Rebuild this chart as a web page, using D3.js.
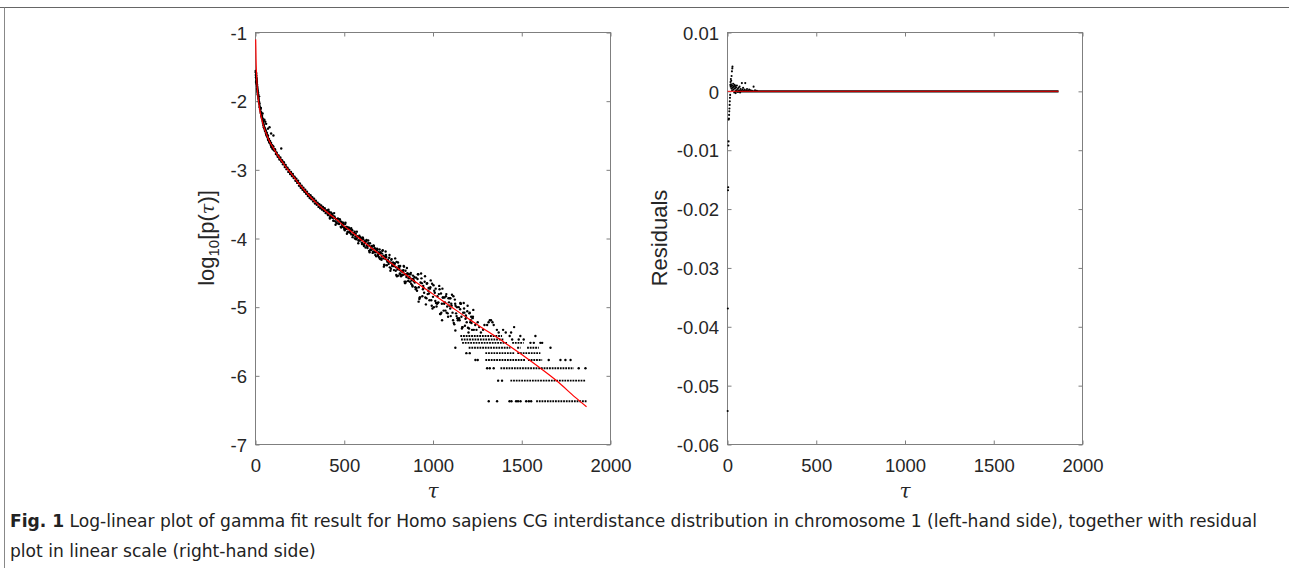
<!DOCTYPE html>
<html>
<head>
<meta charset="utf-8">
<script src="https://cdn.jsdelivr.net/npm/d3@7"></script>
<style>
  body { margin: 0; background: #fff; }
  .tick text { font-family: "Liberation Sans", Arial, sans-serif; font-size: 18.5px; fill: #262626; }
  .tick line { stroke: #7f7f7f; }
</style>
</head>
<body>
<svg id="fig" width="1289" height="574"></svg>
<script>
// ---- values ----
const xTicks = [0, 500, 1000, 1500, 2000];
const leftYTicks = [-1, -2, -3, -4, -5, -6, -7];
const rightYTicks = [0.01, 0, -0.01, -0.02, -0.03, -0.04, -0.05, -0.06];
const rightYLabels = ["0.01", "0", "-0.01", "-0.02", "-0.03", "-0.04", "-0.05", "-0.06"];

// gamma fit (red), log10 p(tau)
const fitCurve = [[1,-1.10],[2,-1.22],[3,-1.38],[4,-1.48],[6,-1.62],[8,-1.73],[12,-1.88],[18,-2.02],
  [25,-2.14],[35,-2.26],[45,-2.36],[60,-2.47],[80,-2.59],[100,-2.68],[125,-2.79],[150,-2.88],[177,-2.98],
  [200,-3.05],[250,-3.22],[300,-3.37],[350,-3.50],[400,-3.61],[450,-3.71],[500,-3.82],[550,-3.92],
  [600,-4.03],[700,-4.23],[800,-4.43],[900,-4.63],[1000,-4.81],[1100,-4.99],[1200,-5.17],[1300,-5.34],
  [1400,-5.51],[1500,-5.69],[1600,-5.88],[1700,-6.08],[1800,-6.31],[1865,-6.45]];

// observed log10 p(tau), short distances
const headPoints = [[1,-1.56],[2,-1.62],[3,-1.65],[4,-1.60],[5,-1.70],[6,-1.67],[7,-1.74],[8,-1.78],[9,-1.76],
  [10,-1.83],[11,-1.81],[12,-1.88],[14,-1.92],[15,-1.90],[17,-1.96],[19,-2.00],[20,-1.93],[21,-2.03],[23,-2.07],
  [25,-2.10],[27,-2.12],[29,-2.15],[30,-2.10],[31,-2.18],[33,-2.20],[35,-2.24],[37,-2.23],[39,-2.27],[40,-2.18],
  [41,-2.30],[43,-2.32],[45,-2.35],[47,-2.38],[50,-2.40],[53,-2.43],[56,-2.42],[59,-2.47],[60,-2.33],[62,-2.50],
  [65,-2.49],[68,-2.53],[71,-2.56],[74,-2.55],[77,-2.59],[79,-2.38],[80,-2.61],[83,-2.60],[86,-2.64],[89,-2.66],
  [92,-2.65],[95,-2.68],[98,-2.70],[101,-2.50],[145,-2.69]];
const headExtra = [[2,-1.58],[3,-1.72],[4,-1.66],[5,-1.63],[6,-1.75],[7,-1.69],[8,-1.72],[9,-1.82],[10,-1.79],
  [11,-1.86],[12,-1.84],[13,-1.90],[14,-1.87],[16,-1.94],[18,-1.98],[20,-2.02],[22,-2.04],[24,-2.09],[26,-2.12],
  [28,-2.10],[30,-2.17],[32,-2.16],[34,-2.22],[36,-2.21],[38,-2.26],[40,-2.25],[42,-2.30],[44,-2.29],[46,-2.34],
  [48,-2.37],[50,-2.27],[52,-2.39],[55,-2.30],[55,-2.44],[58,-2.43],[61,-2.48],[64,-2.46],[67,-2.51],[70,-2.40],
  [70,-2.50],[73,-2.57],[76,-2.55],[79,-2.60],[82,-2.58],[85,-2.62],[88,-2.47],[88,-2.61],[91,-2.67],[94,-2.64],
  [97,-2.69],[99,-2.66]];

// the tight band 100-700
const bandPoints = [[100,-2.66],[105,-2.72],[110,-2.70],[115,-2.77],[120,-2.75],[125,-2.81],[130,-2.79],[135,-2.85],
  [140,-2.82],[145,-2.88],[150,-2.86],[155,-2.92],[160,-2.89],[165,-2.96],[170,-2.93],[175,-2.99],[180,-2.97],
  [185,-3.03],[190,-3.00],[195,-3.06],[200,-3.03],[205,-3.09],[210,-3.06],[215,-3.12],[220,-3.10],[225,-3.16],
  [230,-3.13],[235,-3.19],[240,-3.16],[245,-3.23],[250,-3.20],[255,-3.26],[260,-3.23],[265,-3.29],[270,-3.26],
  [275,-3.32],[280,-3.29],[285,-3.35],[290,-3.32],[295,-3.38],[300,-3.35],[305,-3.41],[310,-3.37],[315,-3.43],
  [320,-3.40],[325,-3.46],[330,-3.42],[335,-3.49],[340,-3.45],[345,-3.51],[350,-3.48],[355,-3.54],[360,-3.50],
  [365,-3.56],[370,-3.52],[375,-3.58],[380,-3.54],[385,-3.60],[390,-3.56],[395,-3.63],[400,-3.59],
  [405,-3.59],[410,-3.66],[415,-3.63],[420,-3.69],[425,-3.62],[430,-3.69],[435,-3.66],[440,-3.74],[445,-3.68],
  [450,-3.75],[455,-3.72],[460,-3.78],[465,-3.71],[470,-3.78],[475,-3.75],[480,-3.83],[485,-3.76],[490,-3.83],
  [495,-3.80],[500,-3.86],[505,-3.79],[510,-3.86],[515,-3.83],[520,-3.91],[525,-3.84],[530,-3.91],[535,-3.88],
  [540,-3.94],[545,-3.88],[550,-3.95],[555,-3.92],[560,-4.00],[565,-3.93],[570,-4.00],[575,-3.97],[580,-4.03],
  [585,-3.96],[590,-4.03],[595,-4.00],[600,-4.08],[605,-3.99],[610,-4.09],[615,-4.04],[620,-4.13],[625,-4.02],
  [630,-4.12],[635,-4.07],[640,-4.18],[645,-4.07],[650,-4.17],[655,-4.12],[660,-4.21],[665,-4.10],[670,-4.20],
  [675,-4.15],[680,-4.26],[685,-4.15],[690,-4.25],[695,-4.20],[700,-4.29]];
const bandMiddle = [[102,-2.69],[112,-2.73],[122,-2.78],[132,-2.82],[142,-2.85],[152,-2.89],[162,-2.92],[172,-2.96],
  [182,-2.99],[192,-3.03],[202,-3.06],[212,-3.09],[222,-3.12],[232,-3.16],[242,-3.19],[252,-3.23],[262,-3.26],
  [272,-3.29],[282,-3.32],[292,-3.35],[302,-3.38],[312,-3.40],[322,-3.43],[332,-3.45],[342,-3.48],[352,-3.50],
  [362,-3.53],[372,-3.55],[382,-3.57],[392,-3.59],
  [403,-3.62],[411,-3.58],[419,-3.71],[427,-3.65],[435,-3.70],[443,-3.63],[451,-3.80],[459,-3.72],[467,-3.75],
  [475,-3.72],[483,-3.84],[491,-3.78],[499,-3.84],[507,-3.77],[515,-3.93],[523,-3.86],[531,-3.89],[539,-3.85],
  [547,-3.98],[555,-3.92],[563,-3.97],[571,-3.90],[579,-4.07],[587,-3.99],[595,-4.02],[603,-3.99],[611,-4.11],
  [619,-4.05],[627,-4.10],[635,-4.03],[643,-4.20],[651,-4.12],[659,-4.15],[667,-4.11],[675,-4.24],[683,-4.18],
  [691,-4.23],[699,-4.16],
  [407,-3.65],[415,-3.61],[423,-3.67],[431,-3.64],[439,-3.74],[447,-3.70],[455,-3.77],[463,-3.71],[471,-3.79],
  [479,-3.75],[487,-3.80],[495,-3.77],[503,-3.88],[511,-3.83],[519,-3.90],[527,-3.85],[535,-3.92],[543,-3.88],
  [551,-3.94],[559,-3.90],[567,-4.01],[575,-3.97],[583,-4.03],[591,-3.98],[599,-4.06],[607,-4.01],[615,-4.07],
  [623,-4.04],[631,-4.14],[639,-4.10],[647,-4.16],[655,-4.11],[663,-4.19],[671,-4.14],[679,-4.20],[687,-4.16],
  [695,-4.27]];

// wider scatter 700-1230
const spreadPoints = [[702,-4.22],[705,-4.20],[710,-4.31],[712,-4.26],[715,-4.18],[720,-4.29],[722,-4.25],[725,-4.38],
  [730,-4.27],[732,-4.30],[735,-4.24],[740,-4.39],[742,-4.32],[745,-4.31],[750,-4.37],[752,-4.34],[755,-4.24],
  [760,-4.47],[762,-4.35],[765,-4.31],[770,-4.40],[772,-4.38],[775,-4.35],[780,-4.46],[782,-4.40],[785,-4.36],
  [790,-4.47],[792,-4.42],[795,-4.34],[800,-4.45],[802,-4.43],[805,-4.54],[810,-4.43],[812,-4.46],[815,-4.40],
  [820,-4.55],[822,-4.48],[825,-4.47],[830,-4.53],[832,-4.49],[835,-4.40],[840,-4.63],[842,-4.52],[845,-4.47],
  [850,-4.56],[852,-4.53],[855,-4.51],[860,-4.62],[862,-4.56],[865,-4.52],[870,-4.63],[872,-4.58],[875,-4.50],
  [880,-4.61],[882,-4.59],[885,-4.70],[890,-4.59],[892,-4.62],[895,-4.56],[900,-4.71],
  [905,-4.57],[910,-4.76],[915,-4.52],[919,-4.92],[920,-4.71],[925,-4.86],[930,-4.64],[935,-4.58],[940,-4.84],
  [945,-4.69],[950,-4.79],[955,-4.55],[960,-4.96],[965,-4.66],[970,-4.81],[975,-4.72],[980,-4.90],[985,-4.71],
  [990,-4.90],[995,-4.66],[1000,-4.85],[1005,-5.00],[1010,-4.79],[1015,-4.73],[1020,-4.99],[1025,-4.84],
  [1030,-4.93],[1035,-4.69],[1040,-5.10],[1045,-4.80],[1050,-4.95],[1051,-5.19],[1055,-4.86],[1060,-5.05],
  [1065,-4.86],[1070,-5.05],[1075,-4.81],[1080,-4.99],[1085,-5.14],[1090,-4.93],[1095,-4.87],[1098,-4.87],
  [1100,-5.13],[1105,-4.98],[1110,-5.08],[1115,-4.84],[1120,-5.25],[1125,-4.95],[1126,-5.34],[1130,-5.09],
  [1135,-5.00],[1140,-5.19],[1145,-5.00],[1150,-5.19],[1154,-4.94],[1155,-4.95],[1160,-5.14],[1165,-5.29],
  [1170,-5.08],[1175,-5.02],[1180,-5.27],[1185,-5.12],[1190,-5.22],[1195,-4.98],[1200,-5.37],[1205,-5.09],
  [1210,-5.22],[1215,-5.14],[1220,-5.33],[1225,-5.14],[1230,-5.33]];
const spreadExtra = [[707,-4.29],[717,-4.17],[727,-4.39],[737,-4.27],[747,-4.32],[757,-4.42],[767,-4.30],[777,-4.40],
  [787,-4.29],[797,-4.55],[807,-4.40],[817,-4.52],[827,-4.53],[837,-4.41],[847,-4.63],[857,-4.51],[867,-4.56],
  [877,-4.66],[887,-4.54],[897,-4.64],[907,-4.72],[917,-4.52],[927,-4.86],[937,-4.65],[947,-4.72],[957,-4.86],
  [967,-4.65],[977,-4.80],[987,-4.61],[997,-5.02],[1007,-4.76],[1017,-4.94],[1027,-4.94],[1037,-4.74],[1047,-5.08],
  [1057,-4.86],[1067,-4.93],[1077,-5.08],[1087,-4.87],[1097,-5.02],[1107,-4.82],[1117,-5.23],[1127,-4.98],
  [1137,-5.16],[1147,-5.16],[1157,-4.95],[1167,-5.29],[1177,-5.08],[1187,-5.15],[1197,-5.30],[1207,-5.08],
  [1217,-5.23],[1227,-5.04],
  [703,-4.30],[713,-4.22],[723,-4.41],[733,-4.19],[743,-4.34],[753,-4.28],[763,-4.44],[773,-4.38],[783,-4.37],
  [793,-4.53],[803,-4.35],[813,-4.51],[823,-4.54],[833,-4.46],[843,-4.65],[853,-4.43],[863,-4.58],[873,-4.52],
  [883,-4.68],[893,-4.62],[903,-4.74],[913,-4.59],[923,-4.88],[933,-4.51],[943,-4.74],[953,-4.63],[963,-4.87],
  [973,-4.76],[983,-4.73],[993,-4.98],[1003,-4.68],[1013,-4.91],[1023,-4.95],[1033,-4.81],[1043,-5.10],
  [1053,-4.73],[1063,-4.95],[1073,-4.84],[1083,-5.09],[1093,-4.98],[1103,-4.95],[1113,-5.19],[1123,-4.89],
  [1133,-5.13],[1143,-5.17],[1153,-5.03],[1163,-5.31],[1173,-4.94],[1183,-5.17],[1193,-5.06],[1203,-5.31],
  [1213,-5.19],[1223,-5.16]];

// far tail: counts are small, so values sit on discrete levels
const tailDots = [[1314,-6.37],[1361,-6.37],[1431,-6.37],[1442,-6.37],[1468,-6.37],[1479,-6.37],[1493,-6.37],
  [1525,-6.37],[1540,-6.37],[1553,-6.37],
  [1367,-6.07],[1389,-6.07],
  [1305,-5.89],[1320,-5.89],[1342,-5.89],[1821,-5.89],[1859,-5.89],
  [1239,-5.77],[1252,-5.77],[1652,-5.77],[1718,-5.77],[1746,-5.77],[1775,-5.77],
  [1188,-5.67],[1207,-5.67],
  [1126,-5.59],[1662,-5.59],
  [1549,-5.52],[1568,-5.52],[1605,-5.52],[1615,-5.52],
  [1446,-5.47],[1483,-5.47],[1511,-5.47],
  [1432,-5.42],[1492,-5.42],[1577,-5.42],
  [1238,-5.26],[1245,-5.33],[1252,-5.22],[1260,-5.29],[1270,-5.37],[1282,-5.33],[1290,-5.26],[1305,-5.26],
  [1313,-5.22],[1320,-5.19],[1327,-5.19],[1335,-5.22],[1342,-5.26],[1360,-5.33],[1370,-5.37],[1395,-5.33],
  [1410,-5.37],[1440,-5.37],[1457,-5.29]];

// runs of neighbouring tau sharing one level: [level, from, to]
const tailRuns = [[-6.37,1581,1868],[-6.07,1436,1859],[-5.89,1380,1793],
  [-5.77,1295,1520],[-5.77,1535,1615],[-5.67,1295,1460],[-5.67,1475,1605],
  [-5.59,1201,1436],[-5.59,1474,1493],[-5.59,1530,1596],
  [-5.52,1164,1417],[-5.52,1446,1511],[-5.47,1158,1399],[-5.42,1154,1389]];

// residuals (right panel)
const residPoints = [[1,-0.0543],[2,-0.0369],[3,-0.0168],[4,-0.0163],[5,-0.0092],[6,-0.0085],[7,-0.0048],
  [8,-0.0046],[9,-0.0040],[10,-0.0034],[11,-0.0029],[12,-0.0023],[13,-0.0017],[14,-0.0011],[15,-0.0006],
  [16,0.0011],[17,0.0016],[18,0.0008],[19,0.0021],[20,0.0012],[21,0.0018],[22,0.0005],[23,0.0026],[24,0.0009],
  [25,0.0034],[26,0.0002],[27,0.0039],[28,0.0042],[29,0.0010],[30,0.0006],[32,0.0013],[34,0.0003],[36,0.0008],
  [38,-0.0002],[40,0.0011],[42,0.0005],[44,0.0009],[46,-0.0003],[48,0.0007],[50,0.0002],[53,0.0010],[56,0.0004],
  [59,-0.0001],[62,0.0006],[65,0.0002],[68,0.0008],[71,-0.0002],[74,0.0004],[77,0.0001],[81,0.0014],[84,0.0003],
  [88,0.0006],[92,0.0001],[96,0.0003],[100,0.0014],[105,0.0002],[110,0.0004],[116,0.0001],[122,0.0003],
  [130,0.0002],[138,0.0001],[147,0.0008],[155,0.0002],[165,0.0001]];
const residZeroRun = [40, 1865];   // everything past here is ~0
const residFit = [[1, 0], [1865, 0]];

const caption1Bold = "Fig. 1";
const caption1 = " Log-linear plot of gamma fit result for Homo sapiens CG interdistance distribution in chromosome 1 (left-hand side), together with residual";
const caption2 = "plot in linear scale (right-hand side)";

// ---- drawing ----
const svg = d3.select('#fig');
svg.append('rect').attr('width', 1289).attr('height', 574).attr('fill', '#fff');

// figure frame
svg.append('line').attr('x1', 0).attr('x2', 1289).attr('y1', 7.5).attr('y2', 7.5)
  .attr('stroke', '#666').attr('stroke-width', 1.2);
svg.append('line').attr('x1', 4.5).attr('x2', 4.5).attr('y1', 7.5).attr('y2', 568)
  .attr('stroke', '#888').attr('stroke-width', 1);

const plotTop = 32.5, plotBottom = 444.5;

function panel(x0, x1, yDomain, yTicks, yFmt) {
  const x = d3.scaleLinear().domain([0, 2000]).range([x0, x1]);
  const y = d3.scaleLinear().domain(yDomain).range([plotBottom, plotTop]);
  const g = svg.append('g');
  g.append('g').attr('transform', `translate(0,${plotBottom})`)
    .call(d3.axisBottom(x).tickValues(xTicks).tickFormat(d => String(d)).tickSize(-4).tickSizeOuter(0).tickPadding(14))
    .call(a => a.select('.domain').remove());
  g.append('g').attr('transform', `translate(0,${plotTop})`)
    .call(d3.axisTop(x).tickValues(xTicks).tickFormat('').tickSize(-4).tickSizeOuter(0))
    .call(a => a.select('.domain').remove());
  g.append('g').attr('transform', `translate(${x0},0)`)
    .call(d3.axisLeft(y).tickValues(yTicks).tickFormat(yFmt).tickSize(-4).tickSizeOuter(0).tickPadding(8.5))
    .call(a => a.select('.domain').remove())
    .selectAll('text').attr('dy', '0.36em');
  g.append('g').attr('transform', `translate(${x1},0)`)
    .call(d3.axisRight(y).tickValues(yTicks).tickFormat('').tickSize(-4).tickSizeOuter(0))
    .call(a => a.select('.domain').remove());
  g.append('rect').attr('x', x0).attr('y', plotTop).attr('width', x1 - x0).attr('height', plotBottom - plotTop)
    .attr('fill', 'none').attr('stroke', '#7f7f7f').attr('stroke-width', 1);
  g.selectAll('.tick text').attr('fill', '#262626');
  return { g, x, y };
}

// left: log-linear
const L = panel(255.5, 610.5, [-7, -1], leftYTicks, d => String(d));
const dotsL = L.g.append('g');
dotsL.selectAll('line').data(tailRuns).join('line')
  .attr('x1', d => L.x(d[1])).attr('x2', d => L.x(d[2]))
  .attr('y1', d => L.y(d[0])).attr('y2', d => L.y(d[0]))
  .attr('stroke', '#000').attr('stroke-width', 1.9).attr('stroke-dasharray', '1.8,0.9');
dotsL.selectAll('circle')
  .data([...headPoints, ...headExtra, ...bandPoints, ...bandMiddle, ...spreadPoints, ...spreadExtra, ...tailDots])
  .join('circle')
  .attr('cx', d => L.x(d[0])).attr('cy', d => L.y(d[1])).attr('r', 1.2).attr('fill', '#000');
L.g.append('path').datum(fitCurve)
  .attr('d', d3.line().x(d => L.x(d[0])).y(d => L.y(d[1])).curve(d3.curveMonotoneX))
  .attr('fill', 'none').attr('stroke', '#ff0000').attr('stroke-width', 1.2);

// right: residuals
const R = panel(727.5, 1082.5, [-0.06, 0.01], rightYTicks, (d, i) => rightYLabels[i]);
R.g.append('line')
  .attr('x1', R.x(residZeroRun[0])).attr('x2', R.x(residZeroRun[1]))
  .attr('y1', R.y(0)).attr('y2', R.y(0))
  .attr('stroke', '#000').attr('stroke-width', 2.2);
R.g.selectAll('circle.res').data(residPoints).join('circle').attr('class', 'res')
  .attr('cx', d => R.x(d[0])).attr('cy', d => R.y(d[1])).attr('r', 1.05).attr('fill', '#000');
R.g.append('path').datum(residFit)
  .attr('d', d3.line().x(d => R.x(d[0])).y(d => R.y(d[1])))
  .attr('fill', 'none').attr('stroke', '#ff0000').attr('stroke-width', 1.2).attr('stroke-opacity', 0.75);

// axis labels
const lab = svg.append('text')
  .attr('transform', 'translate(214,238) rotate(-90)')
  .attr('text-anchor', 'middle')
  .style('font-family', '"Liberation Sans", Arial, sans-serif').style('font-size', '22px').attr('fill', '#262626');
lab.append('tspan').text('log');
lab.append('tspan').text('10').attr('dy', 5).style('font-size', '15px');
lab.append('tspan').text('[p(').attr('dy', -5);
lab.append('tspan').text('τ').style('font-family', '"DejaVu Serif", serif').style('font-style', 'italic').style('font-size', '19px');
lab.append('tspan').text(')]');

svg.append('text')
  .attr('transform', 'translate(667,238) rotate(-90)')
  .attr('text-anchor', 'middle')
  .style('font-family', '"Liberation Sans", Arial, sans-serif').style('font-size', '22px').attr('fill', '#262626')
  .text('Residuals');

[433, 905].forEach(cx => {
  svg.append('text').attr('x', cx).attr('y', 498).attr('text-anchor', 'middle')
    .style('font-family', '"DejaVu Serif", serif').style('font-style', 'italic').style('font-size', '20px')
    .attr('fill', '#262626').text('τ');
});

// caption: squeeze line 1 to the reference width, give line 2 the same squeeze
const capFont = '"Liberation Sans Narrow", "DejaVu Sans Condensed", "Open Sans", sans-serif';
const cap1 = svg.append('text').attr('x', 10).attr('y', 527)
  .style('font-family', capFont).style('font-size', '18px').attr('fill', '#222');
cap1.append('tspan').style('font-weight', 'bold').text(caption1Bold);
cap1.append('tspan').text(caption1);
const cap2 = svg.append('text').attr('x', 10).attr('y', 557)
  .style('font-family', capFont).style('font-size', '18px').attr('fill', '#222').text(caption2);
const squeeze = 1247 / cap1.node().getComputedTextLength();
cap1.attr('textLength', 1247).attr('lengthAdjust', 'spacingAndGlyphs');
cap2.attr('textLength', cap2.node().getComputedTextLength() * squeeze).attr('lengthAdjust', 'spacingAndGlyphs');
</script>
</body>
</html>
